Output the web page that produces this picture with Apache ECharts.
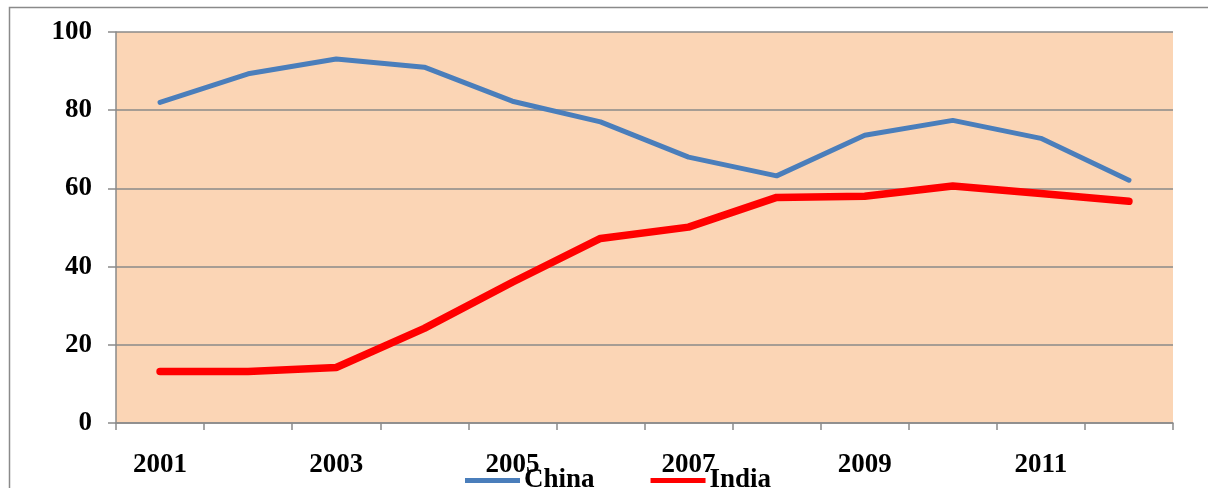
<!DOCTYPE html>
<html>
<head>
<meta charset="utf-8">
<script src="https://cdn.jsdelivr.net/npm/echarts@6/dist/echarts.min.js"></script>
<style>
  html, body { margin: 0; padding: 0; background: #fff; }
  #chart { width: 1208px; height: 488px; }
</style>
</head>
<body>
<div id="chart"></div>
<script>
// years on the category axis
const years = ['2001', '2002', '2003', '2004', '2005', '2006', '2007', '2008', '2009', '2010', '2011', '2012'];
// values
const chinaValues = [82, 89.3, 93.1, 91, 82.3, 77, 68, 63.2, 73.6, 77.4, 72.8, 62.1];
const indiaValues = [13.2, 13.2, 14.2, 24.2, 36, 47.2, 50.1, 57.7, 58, 60.6, 58.7, 56.7];
const yTicks = [0, 20, 40, 60, 80, 100];

const labelFont = {
  fontFamily: '"Liberation Serif", "Times New Roman", serif',
  fontWeight: 'bold',
  fontSize: 27,
  color: '#000'
};

let chart = echarts.init(document.getElementById('chart'));

let option = {
  animation: false,
  // outer frame of the chart
  graphic: [{
    type: 'rect',
    shape: {x: 9.5, y: 7.5, width: 1220, height: 500},
    style: {fill: 'none', stroke: '#8a8a8a', lineWidth: 1.5},
    silent: true
  }],
  grid: {
    left: 116,
    right: 35,
    top: 32,
    bottom: 65,
    show: true,
    backgroundColor: '#FBD5B5',
    borderWidth: 0
  },
  legend: {
    top: 467,
    left: 465,
    padding: 0,
    itemWidth: 55,
    itemHeight: 5,
    itemGap: 56,
    textStyle: Object.assign({}, labelFont, {padding: [4, 0, 0, -1]}),
    data: [
      {name: 'China', icon: 'rect', itemStyle: {color: '#4A7EBB'}},
      {name: 'India', icon: 'rect', itemStyle: {color: '#FF0000'}}
    ]
  },
  xAxis: {
    type: 'category',
    data: years,
    boundaryGap: true,
    axisLine: {lineStyle: {color: '#8a8a8a', width: 1.5}},
    axisTick: {show: true, interval: 0, length: 7, lineStyle: {color: '#8a8a8a', width: 1.5}},
    axisLabel: Object.assign({}, labelFont, {interval: 1, margin: 29})
  },
  yAxis: {
    type: 'value',
    min: yTicks[0],
    max: yTicks[yTicks.length - 1],
    interval: 20,
    axisLine: {show: true, lineStyle: {color: '#8a8a8a', width: 1.5}},
    axisTick: {show: true, length: 8, lineStyle: {color: '#8a8a8a', width: 1.5}},
    splitLine: {lineStyle: {color: '#8a8a8a', width: 1.5}},
    axisLabel: Object.assign({}, labelFont, {margin: 24})
  },
  series: [
    {
      name: 'China',
      type: 'line',
      data: chinaValues,
      symbol: 'none',
      lineStyle: {color: '#4A7EBB', width: 5, cap: 'round'},
      itemStyle: {color: '#4A7EBB'}
    },
    {
      name: 'India',
      type: 'line',
      data: indiaValues,
      symbol: 'none',
      lineStyle: {color: '#FF0000', width: 7.5, cap: 'round'},
      itemStyle: {color: '#FF0000'}
    }
  ]
};

chart.setOption(option);
</script>
</body>
</html>
